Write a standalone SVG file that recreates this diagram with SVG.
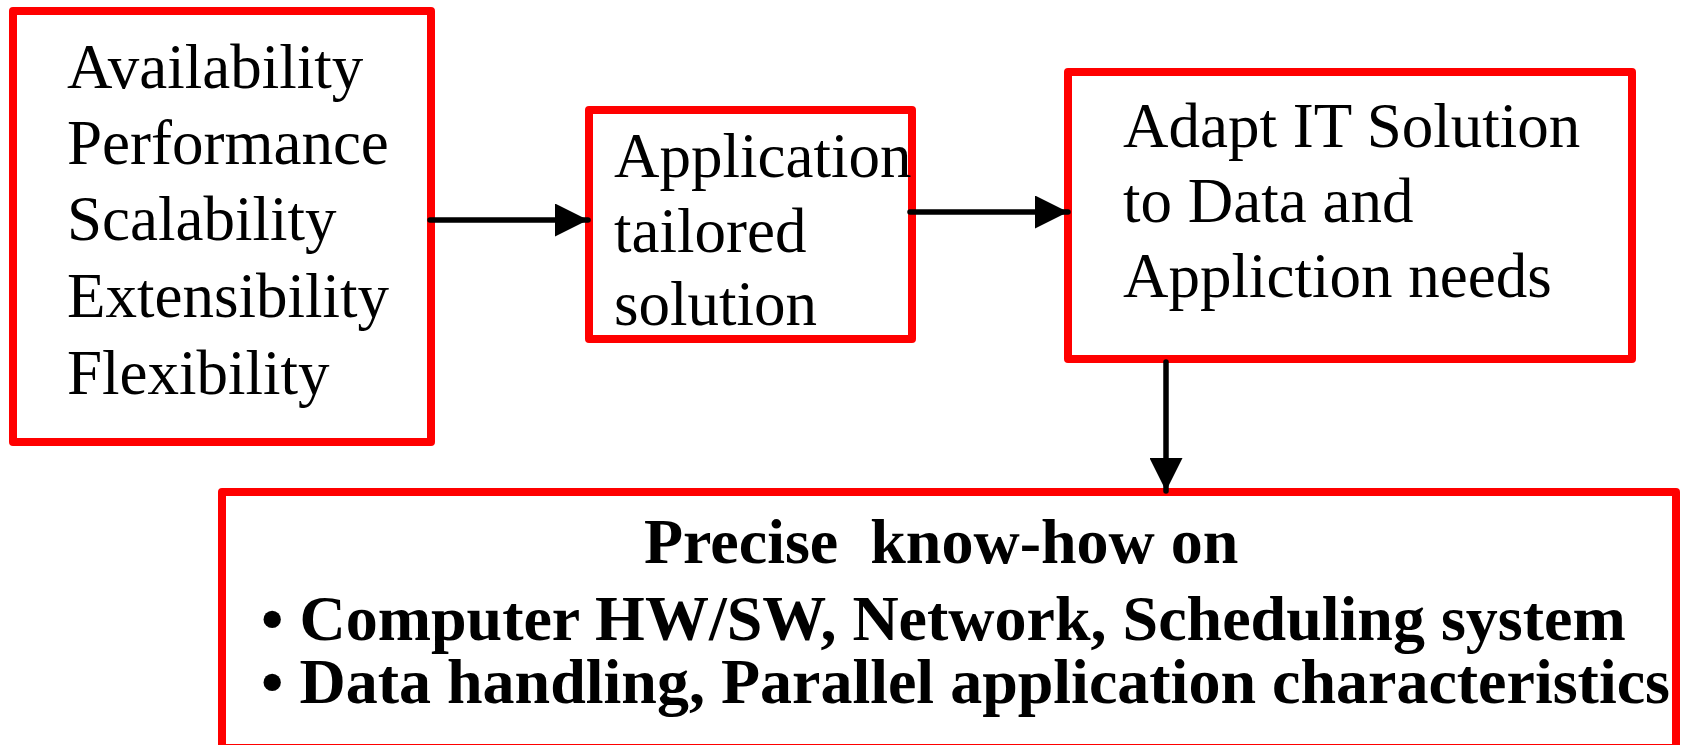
<svg xmlns="http://www.w3.org/2000/svg" width="1682" height="745" viewBox="0 0 1682 745">
<defs>
<style>
.box{fill:#fff;stroke:#ff0000;stroke-width:8;stroke-linejoin:round}
.t{font-family:"Liberation Serif","Times New Roman",serif;font-size:63px;fill:#000}
.b{font-family:"Liberation Serif","Times New Roman",serif;font-size:64px;font-weight:bold;fill:#000;white-space:pre}
.ln{stroke:#000;stroke-width:5.5;stroke-linecap:round;fill:none}
</style>
<marker id="ah" markerWidth="6" markerHeight="6" refX="6" refY="3" orient="auto" markerUnits="strokeWidth">
<path d="M0,0 L6,3 L0,6 Z" fill="#000"/>
</marker>
</defs>
<rect width="1682" height="745" fill="#fff"/>
<g id="node-qualities">
<rect class="box" x="13" y="11" width="418" height="431"/>
<text class="t" x="67" y="88">Availability</text>
<text class="t" x="67" y="164">Performance</text>
<text class="t" x="67" y="240">Scalability</text>
<text class="t" x="67" y="317">Extensibility</text>
<text class="t" x="67" y="394">Flexibility</text>
</g>
<g id="node-tailored">
<rect class="box" x="589" y="110" width="323" height="229"/>
<text class="t" x="614" y="177">Application</text>
<text class="t" x="614" y="252">tailored</text>
<text class="t" x="614" y="325">solution</text>
</g>
<g id="node-adapt">
<rect class="box" x="1068" y="72" width="564" height="287"/>
<text class="t" x="1123" y="147">Adapt IT Solution</text>
<text class="t" x="1123" y="222">to Data and</text>
<text class="t" x="1123" y="297">Appliction needs</text>
</g>
<g id="node-knowhow">
<rect class="box" x="222" y="492" width="1454" height="256"/>
<text class="b" x="644" y="563">Precise  know-how on</text>
<text class="b" x="261" y="640">• Computer HW/SW, Network, Scheduling system</text>
<text class="b" x="261" y="703">• Data handling, Parallel application characteristics</text>
</g>
<g id="connectors">
<line class="ln" x1="430" y1="220" x2="588" y2="220" marker-end="url(#ah)"/>
<line class="ln" x1="910" y1="212" x2="1068" y2="212" marker-end="url(#ah)"/>
<line class="ln" x1="1166" y1="362" x2="1166" y2="491" marker-end="url(#ah)"/>
</g>
</svg>
